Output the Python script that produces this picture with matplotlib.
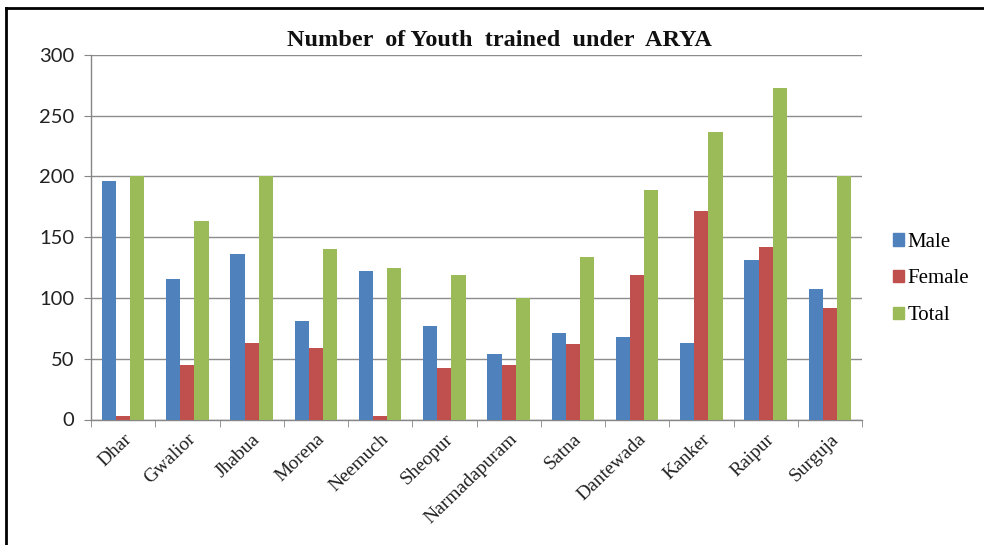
import matplotlib
matplotlib.use("Agg")
import matplotlib.pyplot as plt
import numpy as np
from matplotlib.lines import Line2D

districts = ["Dhar", "Gwalior", "Jhabua", "Morena", "Neemuch", "Sheopur",
             "Narmadapuram", "Satna", "Dantewada", "Kanker", "Raipur", "Surguja"]
male = [196, 116, 136, 81, 122, 77, 54, 71, 68, 63, 131, 107]
female = [3, 45, 63, 59, 3, 42, 45, 62, 119, 172, 142, 92]
total = [200, 163, 200, 140, 125, 119, 100, 134, 189, 237, 273, 200]
series_names = ["Male", "Female", "Total"]
colors = ["#4F81BD", "#C0504D", "#9BBB59"]
yticks = [0, 50, 100, 150, 200, 250, 300]
title = "Number  of Youth  trained  under  ARYA"

W, H = 984, 545
fig = plt.figure(figsize=(W / 100, H / 100), dpi=100)
ax = fig.add_axes([91 / W, 1 - 419.5 / H, (862 - 91) / W, (419.5 - 55) / H])

x = np.arange(len(districts))
bw = 0.22
for i, (vals, name, c) in enumerate(zip([male, female, total], series_names, colors)):
    ax.bar(x + (i - 1) * bw, vals, width=bw, color=c, label=name, zorder=3)

ax.set_xlim(-0.5, len(districts) - 0.5)
ax.set_ylim(0, 300)
ax.set_yticks(yticks)
ax.yaxis.grid(True, color="#8c8c8c", linewidth=1.0, zorder=0)
ax.set_axisbelow(True)
for s in ["top", "right"]:
    ax.spines[s].set_visible(False)
for s in ["left", "bottom"]:
    ax.spines[s].set_color("#868686")
    ax.spines[s].set_linewidth(1.0)

ax.set_xticks(x)
ax.set_xticks(np.arange(-0.5, len(districts)), minor=True)
ax.tick_params(axis="x", which="major", length=0, pad=8)
ax.tick_params(axis="x", which="minor", length=5, color="#868686", direction="out")
ax.tick_params(axis="y", length=5, color="#868686", direction="out", pad=7)
ax.set_xticklabels(districts, rotation=44, ha="right", va="top", rotation_mode="anchor",
                   family="Liberation Serif", fontsize=14, color="#222222")
for lab in ax.get_yticklabels():
    lab.set_family("Lato")
    lab.set_fontsize(14.5)
    lab.set_color("#222222")

fig.text(499 / W, 1 - 40 / H, title, ha="center", va="center",
         family="Liberation Serif", fontweight="bold", fontsize=17.5, color="#111111")

handles = [plt.Rectangle((0, 0), 1, 1, color=c) for c in colors]
fig.legend(handles, series_names, loc="center left", bbox_to_anchor=(874 / W, 1 - 279 / H),
           frameon=False, prop={"family": "Liberation Serif", "size": 15},
           handlelength=0.55, handleheight=0.55, handletextpad=0.15, labelspacing=0.85)

# outer frame lines (top and left)
fig.add_artist(Line2D([6 / W, 1], [1 - 7.5 / H, 1 - 7.5 / H], color="black", linewidth=2,
                      transform=fig.transFigure))
fig.add_artist(Line2D([6 / W, 6 / W], [0, 1 - 7.5 / H], color="black", linewidth=2,
                      transform=fig.transFigure))

fig.savefig("out.png", dpi=100)
